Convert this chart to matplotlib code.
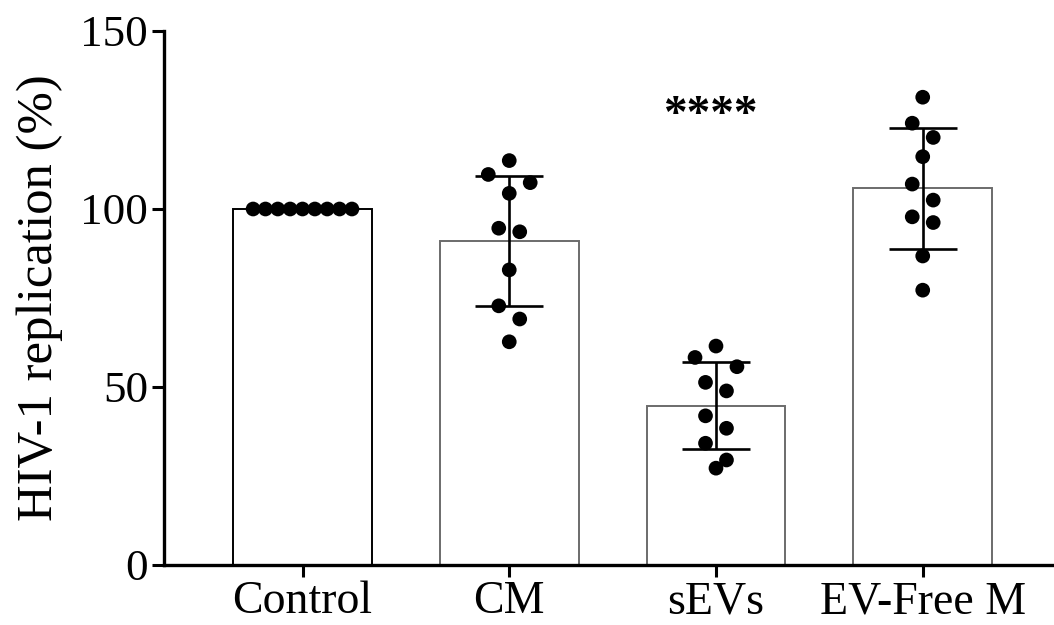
import numpy as np
import matplotlib
matplotlib.use("Agg")
import matplotlib.pyplot as plt

# Replicate measurements, HIV-1 replication relative to control (%)
categories = ["Control", "CM", "sEVs", "EV-Free M"]
control = [100, 100, 100, 100, 100, 100, 100, 100, 100]
cm = [113.6, 109.7, 107.4, 104.4, 94.6, 93.6, 82.9, 72.8, 69.1, 62.7]
sevs = [61.5, 58.3, 55.7, 51.3, 48.9, 41.9, 38.4, 34.2, 29.5, 27.2]
ev_free = [131.4, 124.1, 120.1, 114.7, 107.0, 102.5, 97.8, 96.2, 86.8, 77.2]
groups = [control, cm, sevs, ev_free]
significance = {2: "****"}

yticks = [0, 50, 100, 150]

plt.rcParams["font.family"] = ["Liberation Serif", "DejaVu Serif"]

fig = plt.figure(figsize=(10.54, 6.25), dpi=100)
ax = fig.add_axes([0.1556, 0.096, 0.8444, 0.8544])

bar_width = 0.67
x = np.arange(len(categories))
means = [np.mean(g) for g in groups]
sds = [np.std(g, ddof=1) for g in groups]
edge_colors = ["#000000", "#6b6b6b", "#6b6b6b", "#6b6b6b"]

ax.bar(x, means, width=bar_width, color="white", edgecolor=edge_colors,
       linewidth=1.4, zorder=1)
ax.errorbar(x, means, yerr=sds, fmt="none", ecolor="black", elinewidth=1.9,
            capsize=24.5, capthick=1.9, zorder=3)


def row_offsets(values, row_height=6.8, spacing=0.1014, max_half=0.239):
    """Place points in horizontal rows: values close together sit side by side."""
    order = np.argsort(values)[::-1]
    offsets = np.zeros(len(values))
    rows, current = [], []
    for idx in order:
        if current and values[current[0]] - values[idx] > row_height:
            rows.append(current)
            current = []
        current.append(idx)
    rows.append(current)
    for row in rows:
        n = len(row)
        slots = np.arange(n) * spacing - (n - 1) * spacing / 2
        half = (n - 1) * spacing / 2
        if half > max_half:
            slots = slots * max_half / half
        # first point in the middle, then alternate left / right
        centre = sorted(range(n), key=lambda k: (abs(slots[k]), slots[k]))
        for idx, k in zip(row, centre):
            offsets[idx] = slots[k]
    return offsets


for xi, g in zip(x, groups):
    vals = np.asarray(g, dtype=float)
    off = row_offsets(vals)
    ax.scatter(xi + off, vals, s=112, color="black", edgecolors="none",
               zorder=4)

for xi, label in significance.items():
    ax.text(xi - 0.03, 123, label, ha="center", va="baseline", fontsize=34,
            fontweight="bold")

ax.set_xlim(-0.67, 3.635)
ax.set_ylim(0, 150)
ax.set_xticks(x)
ax.set_xticklabels(categories, fontsize=33)
ax.set_yticks(yticks)
ax.set_yticklabels([str(t) for t in yticks], fontsize=32.5)
ax.set_ylabel("HIV-1 replication (%)", fontsize=36.5, labelpad=12)

for side in ["top", "right"]:
    ax.spines[side].set_visible(False)
for side in ["left", "bottom"]:
    ax.spines[side].set_linewidth(2.4)
ax.tick_params(axis="both", width=2.2, length=8.5, pad=3)

fig.savefig("out.png", dpi=100)
